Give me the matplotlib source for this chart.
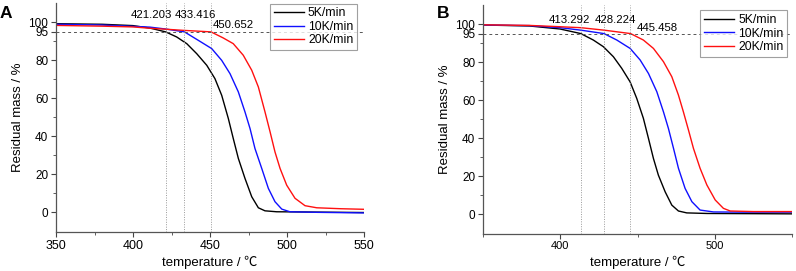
import matplotlib
matplotlib.use("Agg")
import matplotlib.pyplot as plt
from matplotlib.ticker import FixedLocator

plt.rcParams['font.family'] = ['Liberation Sans', 'Noto Sans CJK SC', 'DejaVu Sans']

# Panel A data (temperature in C, residual mass in %)
a_black_t = [350, 380, 400, 411, 421.2, 428.4, 434.9, 441.4, 447.9, 453.2, 457.6, 461.9, 465.1, 468.4,
             472.7, 477.1, 481.4, 485.7, 493.3, 510, 550]
a_black_m = [99.3, 99.0, 98.3, 97.0, 95.0, 92.3, 88.8, 83.5, 77.4, 70.4, 61.6, 49.4, 38.9, 28.4,
             17.9, 8.2, 2.4, 0.8, 0.3, 0.2, -0.1]
a_blue_t = [350, 380, 400, 411, 421.2, 433.4, 443.5, 451.1, 457.6, 463.0, 468.4, 472.7, 476.0, 479.2,
            483.6, 487.9, 492.2, 496.6, 501.9, 520, 550]
a_blue_m = [99.0, 98.6, 97.9, 97.5, 96.5, 95.0, 90.0, 86.2, 80.0, 73.0, 63.4, 52.9, 44.1, 33.6,
            23.1, 12.6, 5.6, 1.7, 0.3, 0.0, -0.3]
a_red_t = [350, 380, 400, 411, 421.2, 432.7, 450.65, 458.6, 465.1, 471.6, 477.1, 481.4, 485.7, 489.0,
           492.2, 495.5, 499.8, 505.2, 511.7, 519.3, 535, 550]
a_red_m = [98.4, 98.0, 97.6, 96.9, 96.4, 95.8, 95.0, 91.8, 88.8, 82.7, 74.8, 66.0, 52.9, 42.4,
           31.8, 23.1, 14.3, 7.4, 3.5, 2.4, 1.9, 1.6]

# Panel B data
b_black_t = [350, 380, 399.9, 413.3, 421.4, 427.9, 434.4, 439.8, 445.2, 449.5, 453.8, 457.1, 460.3,
             463.5, 467.9, 472.2, 476.5, 481.9, 495, 550]
b_black_m = [99.5, 99.0, 97.4, 95.0, 91.6, 88.1, 82.8, 76.7, 69.6, 60.9, 50.4, 39.8, 29.3,
             20.5, 11.7, 4.7, 1.6, 0.6, 0.3, 0.1]
b_blue_t = [350, 380, 399.9, 413.3, 428.3, 436.6, 445.2, 451.7, 457.1, 462.5, 466.8, 470.0, 473.3,
            476.5, 480.8, 485.2, 490.5, 499.2, 520, 550]
b_blue_m = [99.5, 99.2, 98.1, 96.8, 95.0, 91.6, 87.2, 81.1, 74.0, 64.4, 53.8, 45.1, 34.6,
            24.1, 13.5, 6.5, 2.1, 1.1, 1.0, 1.0]
b_red_t = [350, 380, 399.9, 413.3, 428.4, 445.5, 453.8, 460.3, 466.8, 472.2, 476.5, 479.7, 483.0,
           486.2, 490.5, 494.9, 500.3, 505.6, 510.0, 525, 550]
b_red_m = [99.6, 99.3, 98.6, 98.1, 96.8, 95.0, 91.6, 87.2, 80.2, 72.3, 62.6, 53.8, 44.2,
           34.6, 24.1, 15.3, 7.4, 3.0, 1.6, 1.3, 1.3]

a_onset = [421.203, 433.416, 450.652]
b_onset = [413.292, 428.224, 445.458]
labels = ['5K/min', '10K/min', '20K/min']
colors = ['black', '#1010ff', '#ff1010']


def draw_panel(ax, curves, onsets, text_pos, xticks, xminor, xtick_size, legend_anchor):
    for (t, m), c, lab in zip(curves, colors, labels):
        ax.plot(t, m, color=c, lw=1.0, label=lab)
    ax.axhline(95, color='#555555', lw=0.7, ls=(0, (3, 3)))
    for x in onsets:
        ax.axvline(x, color='#999999', lw=0.7, ls=(0, (1, 1.5)))
    for x, (tx, ty) in zip(onsets, text_pos):
        ax.text(tx, ty, f"{x:.3f}", ha='center', va='center', fontsize=8.2)

    ax.set_xlim(350, 550)
    ax.set_ylim(-10.35, 110.2)
    ax.set_yticks([0, 20, 40, 60, 80, 95, 100])
    ax.yaxis.set_minor_locator(FixedLocator([10, 30, 50, 70, 90]))
    ax.set_xticks(xticks)
    ax.xaxis.set_minor_locator(FixedLocator(xminor))
    ax.tick_params(axis='y', labelsize=8.5, length=3.5, width=0.8, color='#444444', pad=2)
    ax.tick_params(axis='x', labelsize=xtick_size, length=3.5, width=0.8, color='#444444', pad=2)
    ax.tick_params(which='minor', length=2, width=0.6, color='#444444')
    for s in ['top', 'right']:
        ax.spines[s].set_visible(False)
    for s in ['left', 'bottom']:
        ax.spines[s].set_color('#555555')
        ax.spines[s].set_linewidth(0.9)

    ax.set_xlabel('temperature / ℃', fontsize=9.5, labelpad=3)
    ax.set_ylabel('Residual mass / %', fontsize=9.5, labelpad=3)

    leg = ax.legend(loc='upper right', bbox_to_anchor=legend_anchor, fontsize=8.8,
                    frameon=True, fancybox=False, handlelength=2.5, handletextpad=0.3,
                    labelspacing=0.12, borderpad=0.3, borderaxespad=0)
    leg.get_frame().set_edgecolor('#888888')
    leg.get_frame().set_linewidth(0.8)


fig = plt.figure(figsize=(7.96, 2.71), dpi=100)
ax_a = fig.add_axes([56 / 796, 39 / 271, 308 / 796, 229 / 271])
ax_b = fig.add_axes([483 / 796, 37.3 / 271, 309 / 796, 229 / 271])

draw_panel(ax_a, [(a_black_t, a_black_m), (a_blue_t, a_blue_m), (a_red_t, a_red_m)],
           a_onset, [(412.0, 103.7), (440.3, 103.7), (465.3, 98.4)],
           [350, 400, 450, 500, 550], [375, 425, 475, 525], 9, (0.977, 0.997))
draw_panel(ax_b, [(b_black_t, b_black_m), (b_blue_t, b_blue_m), (b_red_t, b_red_m)],
           b_onset, [(405.7, 102.1), (435.8, 102.1), (462.7, 97.9)],
           [400, 500], [350, 450, 550], 8, (0.984, 0.975))

fig.text(0.0, 0.978, 'A', fontsize=12.5, fontweight='bold', va='top', ha='left')
fig.text(437 / 796, 0.978, 'B', fontsize=12.5, fontweight='bold', va='top', ha='left')

fig.savefig('out.png', dpi=100)
